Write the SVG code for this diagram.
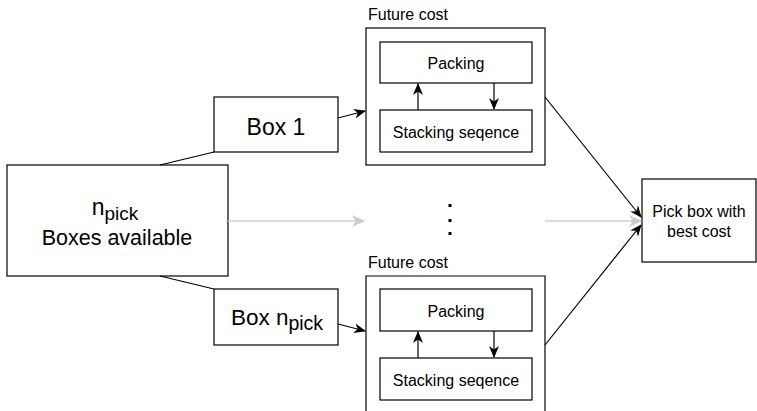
<svg xmlns="http://www.w3.org/2000/svg" width="757" height="411" viewBox="0 0 757 411">
  <style>
    .box { fill: #ffffff; stroke: #000000; stroke-width: 1.2; }
    .t { font-family: "Liberation Sans", Arial, Helvetica, sans-serif; fill: #000000; text-anchor: middle; }
    .ts { font-family: "Liberation Sans", Arial, Helvetica, sans-serif; fill: #000000; text-anchor: start; }
    .edge { fill: none; stroke: #000000; stroke-width: 1.2; }
    .faint { fill: none; stroke: #d0d0d0; stroke-width: 1.5; }
  </style>
  <defs>
    <marker id="arr" markerWidth="12" markerHeight="10" refX="11" refY="5" orient="auto" markerUnits="userSpaceOnUse">
      <path d="M0,0 L12,5 L0,10 L3.5,5 Z" fill="#000000"/>
    </marker>
    <marker id="arrg" markerWidth="13" markerHeight="12" refX="12" refY="6" orient="auto" markerUnits="userSpaceOnUse">
      <path d="M0,0 L13,6 L0,12 L3.5,6 Z" fill="#cccccc"/>
    </marker>
  </defs>

  <rect width="757" height="411" fill="#ffffff"/>

  <g id="available">
    <rect class="box" x="7" y="165" width="221" height="111"/>
    <text class="t" x="115" y="215" font-size="23">n<tspan font-size="19" dy="5">pick</tspan></text>
    <text class="t" x="117" y="245" font-size="21.5">Boxes available</text>
  </g>

  <g id="box-1">
    <rect class="box" x="214" y="97" width="124" height="55"/>
    <text class="t" x="276" y="135" font-size="23">Box 1</text>
  </g>

  <g id="box-npick">
    <rect class="box" x="214" y="289" width="124" height="56"/>
    <text class="t" x="277" y="325" font-size="22.5">Box n<tspan font-size="19.5" dy="5">pick</tspan></text>
  </g>

  <g id="dots" fill="#000000">
    <rect x="448.5" y="204" width="3" height="3"/>
    <rect x="448.5" y="219" width="3" height="3"/>
    <rect x="448.5" y="232" width="3" height="3"/>
  </g>

  <g id="future-cost-1">
    <text class="ts" x="368" y="20" font-size="16">Future cost</text>
    <rect class="box" x="366" y="28" width="179" height="137"/>
    <g id="packing-1">
      <rect class="box" x="380" y="42" width="152" height="41"/>
      <text class="t" x="456" y="69" font-size="16">Packing</text>
    </g>
    <g id="stacking-1">
      <rect class="box" x="380" y="110" width="152" height="42"/>
      <text class="t" x="456" y="138" font-size="16">Stacking seqence</text>
    </g>
  </g>

  <g id="future-cost-2">
    <text class="ts" x="368" y="268" font-size="16">Future cost</text>
    <path class="box" d="M366,420 L366,276 L545,276 L545,420"/>
    <g id="packing-2">
      <rect class="box" x="380" y="289" width="152" height="42"/>
      <text class="t" x="456" y="317" font-size="16">Packing</text>
    </g>
    <g id="stacking-2">
      <rect class="box" x="380" y="358" width="152" height="42"/>
      <text class="t" x="456" y="386" font-size="16">Stacking seqence</text>
    </g>
  </g>

  <g id="pick-best">
    <rect class="box" x="642" y="179" width="114" height="83"/>
    <text class="t" x="699" y="217" font-size="16">Pick box with</text>
    <text class="t" x="699" y="237" font-size="16">best cost</text>
  </g>

  <g id="connectors">
    <line class="edge" x1="160" y1="165" x2="214" y2="152"/>
    <line class="edge" x1="160" y1="276" x2="214" y2="289"/>
    <line class="faint" x1="228" y1="221" x2="364" y2="221" marker-end="url(#arrg)"/>
    <line class="faint" x1="545" y1="221" x2="641" y2="221" marker-end="url(#arrg)"/>
    <line class="edge" x1="338" y1="118" x2="365" y2="111" marker-end="url(#arr)"/>
    <line class="edge" x1="338" y1="324" x2="365" y2="331" marker-end="url(#arr)"/>
    <line class="edge" x1="545" y1="97" x2="641" y2="217" marker-end="url(#arr)"/>
    <line class="edge" x1="545" y1="345" x2="641" y2="225" marker-end="url(#arr)"/>
    <line class="edge" x1="418" y1="110" x2="418" y2="84" marker-end="url(#arr)"/>
    <line class="edge" x1="494" y1="83" x2="494" y2="109" marker-end="url(#arr)"/>
    <line class="edge" x1="418" y1="358" x2="418" y2="332" marker-end="url(#arr)"/>
    <line class="edge" x1="494" y1="331" x2="494" y2="357" marker-end="url(#arr)"/>
  </g>
</svg>
